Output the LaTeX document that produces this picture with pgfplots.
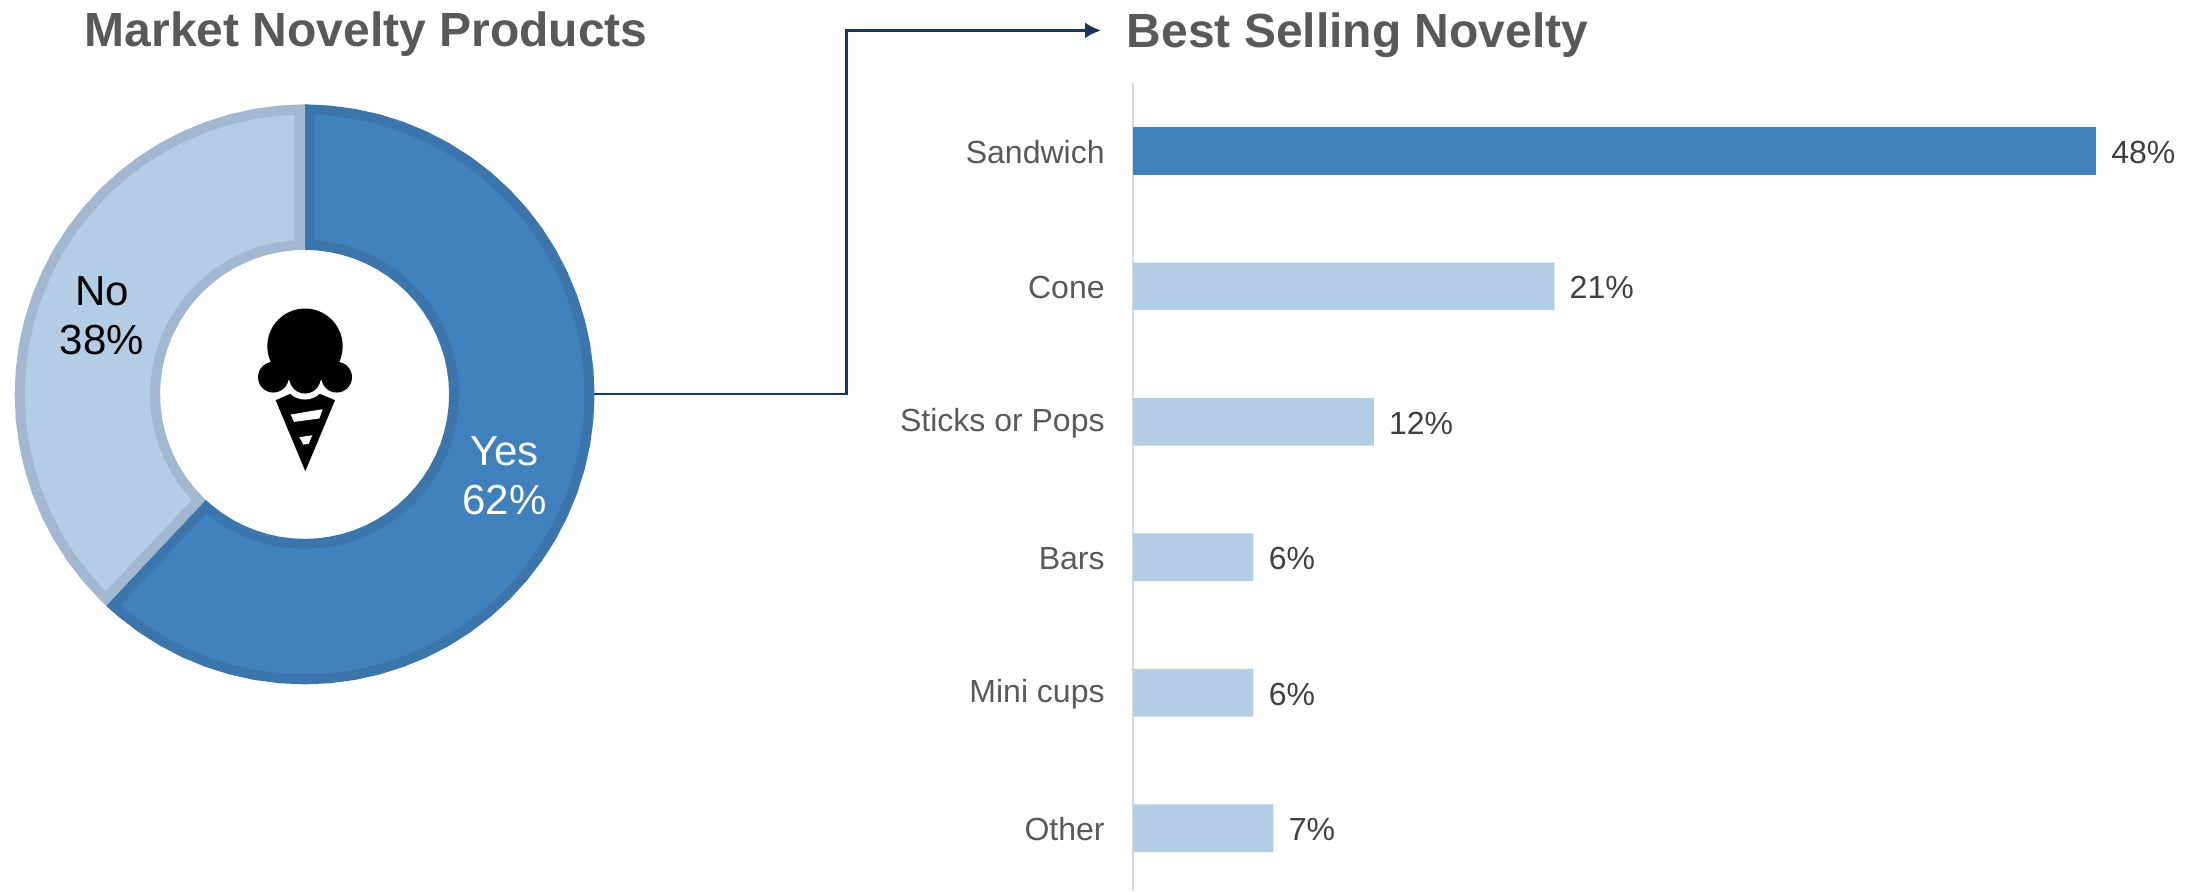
\documentclass[border=0pt]{standalone}
\usepackage{fontspec}
\setmainfont{Liberation Sans}
\usepackage{pgfplots}
\usetikzlibrary{arrows.meta}
\pgfplotsset{compat=1.18}
\definecolor{blueMain}{HTML}{4080BD}
\definecolor{blueEdge}{HTML}{3B75AB}
\definecolor{blueLight}{HTML}{B3CDE5}
\definecolor{blueLightEdge}{HTML}{A1B8D0}
\definecolor{titleGrey}{HTML}{595959}
\definecolor{valueGrey}{HTML}{404040}
\definecolor{axisGrey}{HTML}{D9D9D9}
\definecolor{navy}{HTML}{17375E}
\begin{document}
\begin{tikzpicture}
\path[use as bounding box] (0,0) rectangle (1100.5pt,445.5pt);

% Titles
\node[anchor=base west,text=titleGrey,font=\fontsize{24}{28}\selectfont\bfseries] at (38.9pt,422pt) {Market Novelty Products};
\node[anchor=base west,text=titleGrey,font=\fontsize{24}{28}\selectfont\bfseries] at (559.9pt,421.5pt) {Best Selling Novelty};

% Elbow connector from the donut to the bar chart
\draw[navy,line width=1.25pt,line join=miter,-{Latex[length=8pt,width=8pt]}]
  (297pt,248.5pt) -- (423.3pt,248.5pt) -- (423.3pt,430.3pt) -- (550.5pt,430.3pt);

% Donut: 62 % Yes, 38 % No, angles in degrees counted from the x axis
\begin{axis}[
  at={(1.8pt,97.8pt)},anchor=south west,
  scale only axis,width=301pt,height=301pt,
  xmin=-300,xmax=300,ymin=-300,ymax=300,
  hide axis,clip=false]
\addplot[data cs=polar,no markers,fill=blueMain,draw=blueEdge,line width=5pt,line join=miter] coordinates {
 (88.99,284)(85,284)(80,284)(75,284)(70,284)(65,284)(60,284)(55,284)(50,284)(45,284)(40,284)(35,284)
 (30,284)(25,284)(20,284)(15,284)(10,284)(5,284)(0,284)(-5,284)(-10,284)(-15,284)(-20,284)(-25,284)
 (-30,284)(-35,284)(-40,284)(-45,284)(-50,284)(-55,284)(-60,284)(-65,284)(-70,284)(-75,284)(-80,284)
 (-85,284)(-90,284)(-95,284)(-100,284)(-105,284)(-110,284)(-115,284)(-120,284)(-125,284)(-130,284)(-132.19,284)
 (-131.28,149)(-130,149)(-125,149)(-120,149)(-115,149)(-110,149)(-105,149)(-100,149)(-95,149)(-90,149)
 (-85,149)(-80,149)(-75,149)(-70,149)(-65,149)(-60,149)(-55,149)(-50,149)(-45,149)(-40,149)(-35,149)
 (-30,149)(-25,149)(-20,149)(-15,149)(-10,149)(-5,149)(0,149)(5,149)(10,149)(15,149)(20,149)(25,149)
 (30,149)(35,149)(40,149)(45,149)(50,149)(55,149)(60,149)(65,149)(70,149)(75,149)(80,149)(85,149)(88.08,149)
} -- cycle;
\addplot[data cs=polar,no markers,fill=blueLight,draw=blueLightEdge,line width=5pt,line join=miter] coordinates {
 (91.01,284)(95,284)(100,284)(105,284)(110,284)(115,284)(120,284)(125,284)(130,284)(135,284)(140,284)
 (145,284)(150,284)(155,284)(160,284)(165,284)(170,284)(175,284)(180,284)(185,284)(190,284)(195,284)
 (200,284)(205,284)(210,284)(215,284)(220,284)(225,284)(225.79,284)
 (224.88,149)(220,149)(215,149)(210,149)(205,149)(200,149)(195,149)(190,149)(185,149)(180,149)(175,149)
 (170,149)(165,149)(160,149)(155,149)(150,149)(145,149)(140,149)(135,149)(130,149)(125,149)(120,149)
 (115,149)(110,149)(105,149)(100,149)(95,149)(91.92,149)
} -- cycle;
\node[align=center,text=white,font=\fontsize{21}{24.5}\selectfont] at (axis cs:199.4,-81.5) {Yes\\62\%};
\node[align=center,text=black,font=\fontsize{21}{24.5}\selectfont] at (axis cs:-202,78.7) {No\\38\%};
\end{axis}

% Ice cream cone in the donut hole
\begin{scope}[shift={(115pt,304.9pt)},x=0.16667pt,y=-0.16667pt]
  \fill[black] (137,357) -- (180,338) -- (270,338) -- (315,357) -- (226,570) -- cycle;
  \fill[white] (182,400) -- (278,384) -- (268,412) -- (192,422) -- cycle;
  \fill[white] (208,468) -- (247,462) -- (236,488) -- (220,490) -- cycle;
  \fill[white] (130,288) circle[radius=62];
  \fill[white] (320,288) circle[radius=62];
  \fill[white] (225,290) circle[radius=65];
  \fill[black] (225,195) circle[radius=113];
  \fill[black] (130,288) circle[radius=46];
  \fill[black] (320,288) circle[radius=46];
  \fill[black] (225,290) circle[radius=47];
\end{scope}

% Horizontal bars
\begin{axis}[
  at={(566.5pt,0.25pt)},anchor=south west,
  scale only axis,width=481.5pt,height=403.65pt,
  xmin=0,xmax=48,ymin=-0.5,ymax=5.46,
  y dir=reverse,clip=false,
  axis x line=none,axis y line*=left,
  axis line style={draw=axisGrey,line width=1pt},
  xbar,bar width=23.85pt,bar shift=0pt,
  ytick={0,1,2,3,4,5},
  yticklabels={Sandwich,Cone,Sticks or Pops,Bars,Mini cups,Other},
  major tick length=0pt,
  y tick style={draw=none},
  yticklabel style={inner sep=0pt,xshift=-14pt,yshift=-0.5pt,text=titleGrey,font=\fontsize{16}{19}\selectfont},
  point meta=x,
  nodes near coords={\pgfmathprintnumber[assume math mode=true]{\pgfplotspointmeta}\%},
  every node near coord/.append style={inner sep=0pt,xshift=7.5pt,yshift=-0.7pt,text=valueGrey,font=\fontsize{16}{19}\selectfont}]
\addplot[fill=blueMain,draw=none] coordinates {(48,0)};
\addplot[fill=blueLight,draw=none] coordinates {(21,1)(12,2)(6,3)(6,4)(7,5)};
\end{axis}
\end{tikzpicture}
\end{document}
